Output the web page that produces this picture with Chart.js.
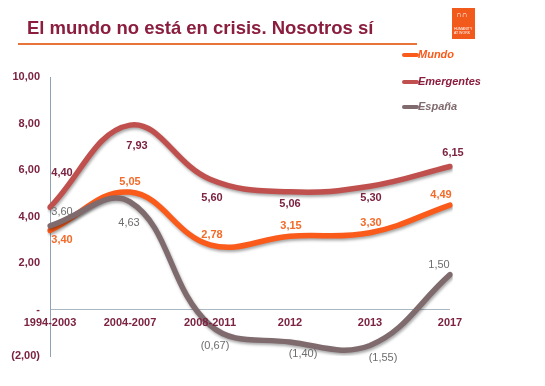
<!DOCTYPE html>
<html>
<head>
<meta charset="utf-8">
<script src="https://cdn.jsdelivr.net/npm/chart.js@4/dist/chart.umd.min.js"></script>
<style>
  body { margin: 0; background: #fff; font-family: Arial, "Liberation Sans", sans-serif; }
  #wrap { position: relative; width: 545px; height: 386px; overflow: hidden; }
  #titulo { position: absolute; left: 27px; top: 17px; font-size: 18.5px; font-weight: bold; color: #8b1e3f; white-space: nowrap; }
  #raya { position: absolute; left: 18px; top: 43px; width: 399px; height: 2px; background: #e8743b; }
  #logo { position: absolute; left: 452px; top: 8px; width: 23px; height: 31px; background: #f25a1c; color: #fff; }
  #logo .ico { position: absolute; left: 4px; top: 2px; font-size: 8px; font-weight: bold; }
  #logo .txt { position: absolute; left: 2px; top: 19px; font-size: 3.5px; line-height: 4px; }
  canvas { position: absolute; left: 0; top: 0; }
</style>
</head>
<body>
<div id="wrap">
  <canvas id="myChart" width="545" height="386"></canvas>
  <div id="titulo">El mundo no está en crisis. Nosotros sí</div>
  <div id="raya"></div>
  <div id="logo"><span class="ico">&#8745;&#8745;</span><span class="txt">HUMANITY<br>AT WORK</span></div>
</div>
<script>
const periodos = ['1994-2003', '2004-2007', '2008-2011', '2012', '2013', '2017'];
const mundo = [3.40, 5.05, 2.78, 3.15, 3.30, 4.49];
const emergentes = [4.40, 7.93, 5.60, 5.06, 5.30, 6.15];
const espana = [3.60, 4.63, -0.67, -1.40, -1.55, 1.50];
const y_ticks = [-2, 0, 2, 4, 6, 8, 10];

// donde va cada etiqueta respecto a su punto (px)
const off_mundo = [[12, 10], [0, -10], [2, -10], [1, -10], [1, -10], [-9, -10]];
const off_emerg = [[12, -34], [7, 21], [2, 19], [0, 12], [1, 12], [3, -14]];
const off_espana = [[12, -14], [-1, 21], [5, 21], [13, 12], [13, 12], [-11, -10]];

const color_mundo = '#fa5a1a';
const color_emerg = '#c0504d';
const color_espana = '#7f6a6e';

function fmt(v) {
    if (v == 0) return '-';
    let s = Math.abs(v).toFixed(2).replace('.', ',');
    return v < 0 ? '(' + s + ')' : s;
}

const sombra = {
    id: 'sombra',
    beforeDatasetDraw(chart) {
        const ctx = chart.ctx;
        ctx.save();
        ctx.shadowColor = 'rgba(0,0,0,0.35)';
        ctx.shadowBlur = 3;
        ctx.shadowOffsetX = 1;
        ctx.shadowOffsetY = 2;
    },
    afterDatasetDraw(chart) {
        chart.ctx.restore();
    }
};

const etiquetas = {
    id: 'etiquetas',
    afterDatasetsDraw(chart) {
        const ctx = chart.ctx;
        const xs = chart.scales.x, ys = chart.scales.y;
        const grupos = [
            [mundo, off_mundo, '#f26b2a', 'bold 11px Arial'],
            [emergentes, off_emerg, '#7b2340', 'bold 11px Arial'],
            [espana, off_espana, '#6d6d6d', '11px Arial']
        ];
        ctx.save();
        ctx.textAlign = 'center';
        ctx.textBaseline = 'middle';
        grupos.forEach(g => {
            g[0].forEach((v, i) => {
                ctx.fillStyle = g[2];
                ctx.font = g[3];
                ctx.fillText(fmt(v), xs.getPixelForValue(i) + g[1][i][0], ys.getPixelForValue(v) + g[1][i][1]);
            });
        });
        // etiquetas del eje x sobre la linea del cero
        ctx.fillStyle = '#7b2340';
        ctx.font = 'bold 11px Arial';
        periodos.forEach((p, i) => {
            ctx.fillText(p, xs.getPixelForValue(i), ys.getPixelForValue(0) + 13);
        });
        // leyenda
        const ley = [['Mundo', color_mundo, color_mundo, 55], ['Emergentes', color_emerg, '#8b1e3f', 82], ['España', color_espana, color_espana, 107]];
        ctx.textAlign = 'left';
        ctx.font = 'italic bold 11px Arial';
        ley.forEach(l => {
            ctx.strokeStyle = l[1];
            ctx.lineWidth = 4;
            ctx.lineCap = 'round';
            ctx.beginPath();
            ctx.moveTo(404, l[3]);
            ctx.lineTo(417, l[3]);
            ctx.stroke();
            ctx.fillStyle = l[2];
            ctx.fillText(l[0], 418, l[3]);
        });
        ctx.restore();
    }
};

var ctx = document.getElementById('myChart').getContext('2d');
var myChart = new Chart(ctx, {
    type: 'line',
    data: {
        labels: periodos,
        datasets: [
            { label: 'Mundo', data: mundo, borderColor: color_mundo, order: 1 },
            { label: 'Emergentes', data: emergentes, borderColor: color_emerg, order: 2 },
            { label: 'España', data: espana, borderColor: color_espana, order: 0 }
        ]
    },
    options: {
        responsive: false,
        animation: false,
        layout: { padding: { left: 0, right: 95, top: 77, bottom: 30 } },
        elements: {
            line: { borderWidth: 5.5, tension: 0.4, borderCapStyle: 'round', fill: false },
            point: { radius: 0 }
        },
        plugins: {
            legend: { display: false },
            tooltip: { enabled: false }
        },
        scales: {
            x: {
                display: false,
                offset: false
            },
            y: {
                min: -2,
                max: 10,
                afterFit(scale) { scale.width = 50; },
                afterBuildTicks(scale) { scale.ticks = y_ticks.map(v => ({ value: v })); },
                border: { display: true, color: '#8fa3b3', width: 1 },
                grid: {
                    drawTicks: false,
                    color: c => (c.tick && c.tick.value == 0) ? '#a9b8c3' : 'rgba(0,0,0,0)'
                },
                ticks: {
                    padding: 10,
                    color: '#7b2340',
                    font: { family: 'Arial', weight: 'bold', size: 11 },
                    callback: v => fmt(v)
                }
            }
        }
    },
    plugins: [sombra, etiquetas]
});
</script>
</body>
</html>
